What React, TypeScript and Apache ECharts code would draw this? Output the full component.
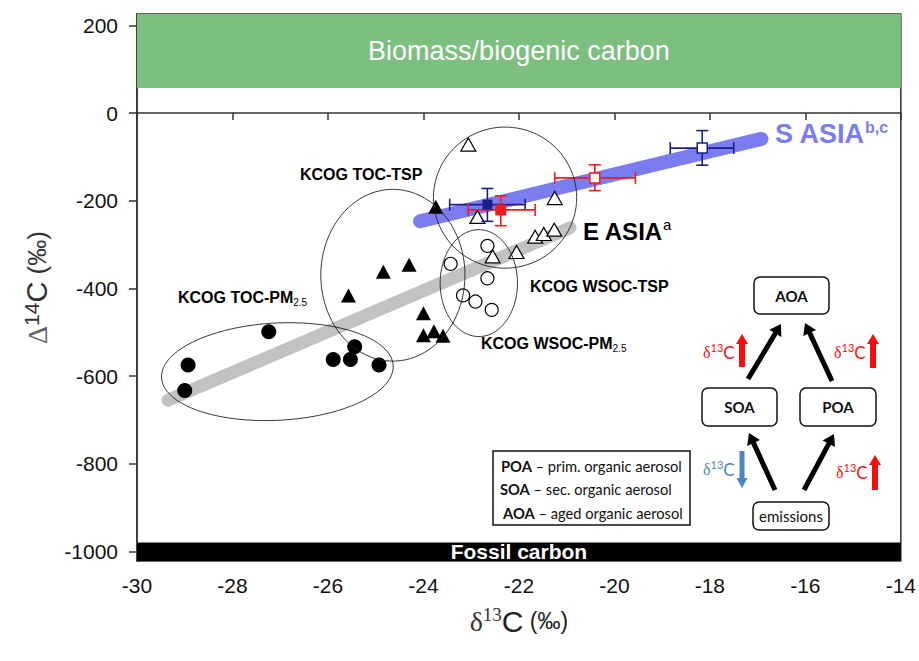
import React, { useEffect, useRef } from "react";
import * as echarts from "echarts";

// ---- data ----
const yTickValues = [-1000, -800, -600, -400, -200, 0, 200];
const xRange = [-30, -14];
const yRange = [-1022, 226];
const bandBiomass = [57, 226];
const bandFossil = [-1022, -980];

const tocPm25 = [[-28.93, -575], [-29.0, -633], [-27.24, -499], [-25.89, -562], [-25.53, -562], [-25.44, -533], [-24.93, -575]];
const tocTsp = [[-25.57, -416], [-24.84, -362], [-24.3, -346], [-24.0, -457], [-24.0, -507], [-23.78, -498], [-23.59, -508], [-23.74, -214]];
const wsocPm25 = [[-22.66, -303], [-23.43, -344], [-22.66, -377], [-23.17, -416], [-22.91, -430], [-22.57, -449]];
const wsocTsp = [[-23.06, -72], [-21.25, -194], [-22.87, -237], [-21.66, -282], [-21.48, -276], [-21.26, -266], [-22.05, -317], [-22.55, -327]];

// [x, y, xLow, xHigh, yLow, yHigh]
const blueFilledMean = [[-22.66, -209, -23.45, -21.87, -247, -172]];
const redFilledMean = [[-22.38, -221, -23.06, -21.66, -257, -189]];
const redOpenMean = [[-20.41, -148, -21.25, -19.56, -177, -118]];
const blueOpenMean = [[-18.16, -80, -18.83, -17.5, -119, -40]];

const eAsiaTrend = [[-29.35, -655], [-20.93, -262]];
const sAsiaTrend = [[-24.07, -247], [-16.92, -59]];

// [centerX, centerY, radiusX, radiusY, rotationDeg]
const groupEllipses = [
  [-27.06, -590, 2.43, 111, 3],
  [-24.64, -370, 1.51, 196, 0],
  [-22.29, -193, 1.5, 161, 0],
  [-22.84, -388, 0.81, 122, 0],
];

const SANS = '"Liberation Sans", Arial, sans-serif';
const SERIF = '"Liberation Serif", "DejaVu Serif", serif';
const CAL = 'Lato, "Noto Sans", sans-serif';

function arrow(x1: number, y1: number, x2: number, y2: number, color: string, width: number, headLen: number, headW: number) {
  const dx = x2 - x1, dy = y2 - y1;
  const L = Math.hypot(dx, dy);
  const ux = dx / L, uy = dy / L;
  const bx = x2 - ux * headLen, by = y2 - uy * headLen;
  const px = -uy, py = ux;
  return [
    { type: "line", shape: { x1, y1, x2: bx + ux, y2: by + uy }, style: { stroke: color, lineWidth: width } },
    {
      type: "polygon",
      shape: { points: [[x2, y2], [bx + (px * headW) / 2, by + (py * headW) / 2], [bx - (px * headW) / 2, by - (py * headW) / 2]] },
      style: { fill: color },
    },
  ];
}

function box(x: number, y: number, w: number, h: number, label: string, bold: boolean) {
  return [
    { type: "rect", shape: { x, y, width: w, height: h, r: 6 }, style: { fill: "#fff", stroke: "#111", lineWidth: 1.5 } },
    {
      type: "text",
      x: x + w / 2,
      y: y + h / 2,
      style: { text: label, fill: "#111", font: `${bold ? "bold " : ""}15px ${CAL}`, align: "center", verticalAlign: "middle" },
    },
  ];
}

function deltaLabel(x: number, y: number, color: string) {
  return {
    type: "text",
    x,
    y,
    style: {
      text: "{d|δ}{s|13}{c|C}",
      align: "left",
      verticalAlign: "middle",
      rich: {
        d: { fontFamily: SERIF, fontSize: 16, fill: color, lineHeight: 20 },
        s: { fontFamily: CAL, fontSize: 11, fill: color, lineHeight: 13, verticalAlign: "top" },
        c: { fontFamily: CAL, fontSize: 17, fill: color, lineHeight: 20 },
      },
    },
  };
}

function errorBarSeries(data: number[][], color: string) {
  return {
    type: "custom",
    data,
    encode: { x: 0, y: 1 },
    z: 5,
    silent: true,
    renderItem: (params: any, api: any) => {
      const x = api.value(0), y = api.value(1);
      const pL = api.coord([api.value(2), y]);
      const pR = api.coord([api.value(3), y]);
      const pB = api.coord([x, api.value(4)]);
      const pT = api.coord([x, api.value(5)]);
      const c = 6;
      const st = { stroke: color, lineWidth: 1.6 };
      return {
        type: "group",
        children: [
          { type: "line", shape: { x1: pL[0], y1: pL[1], x2: pR[0], y2: pR[1] }, style: st },
          { type: "line", shape: { x1: pL[0], y1: pL[1] - c, x2: pL[0], y2: pL[1] + c }, style: st },
          { type: "line", shape: { x1: pR[0], y1: pR[1] - c, x2: pR[0], y2: pR[1] + c }, style: st },
          { type: "line", shape: { x1: pB[0], y1: pB[1], x2: pT[0], y2: pT[1] }, style: st },
          { type: "line", shape: { x1: pB[0] - c, y1: pB[1], x2: pB[0] + c, y2: pB[1] }, style: st },
          { type: "line", shape: { x1: pT[0] - c, y1: pT[1], x2: pT[0] + c, y2: pT[1] }, style: st },
        ],
      };
    },
  };
}

const legendRich = {
  b: { fontFamily: CAL, fontWeight: "bold", fontSize: 14.7, fill: "#111" },
  n: { fontFamily: CAL, fontSize: 14.7, fill: "#111" },
};

export default function App() {
  const ref = useRef<HTMLDivElement>(null);
  useEffect(() => {
    if (!ref.current) return;
    const chart = echarts.init(ref.current, undefined, { renderer: "svg" });
    const red = "#f80c0c";
    const blue = "#4f83c4";
    const graphics: any[] = [
      { type: "text", x: 300, y: 174, style: { text: "KCOG TOC-TSP", font: `bold 16px ${SANS}`, fill: "#000", verticalAlign: "middle" } },
      {
        type: "text", x: 178, y: 297,
        style: {
          text: "{a|KCOG TOC-PM}{b|2.5}", verticalAlign: "middle",
          rich: { a: { fontFamily: SANS, fontWeight: "bold", fontSize: 16, fill: "#000", lineHeight: 20 }, b: { fontFamily: SANS, fontSize: 10, fill: "#000", lineHeight: 10, verticalAlign: "bottom" } },
        },
      },
      { type: "text", x: 530, y: 286, style: { text: "KCOG WSOC-TSP", font: `bold 16px ${SANS}`, fill: "#000", verticalAlign: "middle" } },
      {
        type: "text", x: 481, y: 343,
        style: {
          text: "{a|KCOG WSOC-PM}{b|2.5}", verticalAlign: "middle",
          rich: { a: { fontFamily: SANS, fontWeight: "bold", fontSize: 16, fill: "#000", lineHeight: 20 }, b: { fontFamily: SANS, fontSize: 10, fill: "#000", lineHeight: 10, verticalAlign: "bottom" } },
        },
      },
      {
        type: "text", x: 583, y: 231,
        style: {
          text: "{a|E ASIA}{b|a}", verticalAlign: "middle",
          rich: { a: { fontFamily: SANS, fontWeight: "bold", fontSize: 24, fill: "#000", lineHeight: 28 }, b: { fontFamily: SANS, fontSize: 15, fill: "#000", lineHeight: 16, verticalAlign: "top" } },
        },
      },
      {
        type: "text", x: 775, y: 134,
        style: {
          text: "{a|S ASIA}{b|b,c}", verticalAlign: "middle",
          rich: { a: { fontFamily: SANS, fontWeight: "bold", fontSize: 27, fill: "#7b7cf0", lineHeight: 30 }, b: { fontFamily: SANS, fontWeight: "bold", fontSize: 16, fill: "#7b7cf0", lineHeight: 17, verticalAlign: "top" } },
        },
      },
      { type: "rect", shape: { x: 493, y: 451, width: 197, height: 74 }, style: { fill: "#fff", stroke: "#111", lineWidth: 1.5 } },
      { type: "text", x: 501, y: 466, style: { text: "{b|POA}{n| – prim. organic aerosol}", verticalAlign: "middle", rich: legendRich } },
      { type: "text", x: 500, y: 489, style: { text: "{b|SOA}{n| – sec. organic aerosol}", verticalAlign: "middle", rich: legendRich } },
      { type: "text", x: 503, y: 513, style: { text: "{b|AOA}{n| – aged organic aerosol}", verticalAlign: "middle", rich: legendRich } },
      ...box(754, 277, 75, 37, "AOA", true),
      ...box(702, 388, 75, 38, "SOA", true),
      ...box(800, 388, 76, 38, "POA", true),
      ...box(753, 502, 76, 28, "emissions", false),
      ...arrow(748, 379, 781, 324, "#000", 5, 11, 14),
      ...arrow(832, 381, 805, 323, "#000", 5, 11, 14),
      ...arrow(775, 490, 749, 433, "#000", 5, 11, 14),
      ...arrow(804, 490, 834, 434, "#000", 5, 11, 14),
      deltaLabel(703, 352, red),
      deltaLabel(834, 352, red),
      deltaLabel(703, 469, blue),
      deltaLabel(836, 472, red),
      ...arrow(742, 367, 742, 334, red, 6, 10, 12),
      ...arrow(873, 368, 873, 334, red, 6, 10, 12),
      ...arrow(742, 451, 742, 488, blue, 5, 10, 11),
      ...arrow(875, 490, 875, 455, red, 6, 10, 12),
    ];

    const option: any = {
      animation: false,
      backgroundColor: "#fff",
      grid: { left: 137, right: 18, top: 14, bottom: 100, show: true, borderColor: "#333", borderWidth: 1.5, backgroundColor: "transparent" },
      xAxis: {
        type: "value",
        min: xRange[0],
        max: xRange[1],
        interval: 2,
        name: "{d|δ}{s|13}{c|C}{p| (‰)}",
        nameLocation: "middle",
        nameGap: 44,
        nameTextStyle: {
          rich: {
            d: { fontFamily: SERIF, fontSize: 28, color: "#333", lineHeight: 32 },
            s: { fontFamily: SERIF, fontSize: 19, color: "#333", lineHeight: 18, verticalAlign: "top" },
            c: { fontFamily: SANS, fontSize: 30, color: "#222", lineHeight: 32 },
            p: { fontFamily: SANS, fontSize: 23, color: "#222", lineHeight: 32 },
          },
        },
        axisLine: { show: true, lineStyle: { color: "#333", width: 1.5 } },
        axisTick: { show: true, length: 7, lineStyle: { color: "#333", width: 1.5 } },
        axisLabel: { fontFamily: SANS, fontSize: 21, color: "#111", margin: 14, showMinLabel: true, showMaxLabel: true },
        splitLine: { show: false },
      },
      yAxis: {
        type: "value",
        min: yRange[0],
        max: yRange[1],
        name: "{d|Δ}{s|14}{c|C}{p| (‰)}",
        nameLocation: "middle",
        nameRotate: 90,
        nameGap: 84,
        nameTextStyle: {
          rich: {
            d: { fontFamily: SERIF, fontSize: 28, color: "#666", lineHeight: 32 },
            s: { fontFamily: SANS, fontSize: 21, color: "#333", lineHeight: 20, verticalAlign: "top" },
            c: { fontFamily: SANS, fontSize: 29, color: "#333", lineHeight: 32 },
            p: { fontFamily: SANS, fontSize: 26, color: "#333", lineHeight: 32 },
          },
        },
        axisLine: { show: true, lineStyle: { color: "#333", width: 1.5 } },
        axisTick: { show: true, length: 8, customValues: yTickValues, lineStyle: { color: "#333", width: 1.5 } },
        axisLabel: { customValues: yTickValues, formatter: (v: number) => String(v), fontFamily: SANS, fontSize: 21, color: "#111", margin: 19 },
        splitLine: { show: false },
      },
      graphic: graphics,
      series: [
        {
          type: "line",
          data: eAsiaTrend,
          symbol: "none",
          silent: true,
          z: 1,
          lineStyle: { color: "#c2c2c2", width: 13, cap: "round" },
          markArea: {
            silent: true,
            data: [
              [
                { yAxis: bandBiomass[0], itemStyle: { color: "#7cbf7e", opacity: 1 }, label: { show: true, position: "inside", formatter: "Biomass/biogenic carbon", color: "#fff", fontFamily: SANS, fontSize: 27 } },
                { yAxis: bandBiomass[1] },
              ],
              [
                { yAxis: bandFossil[0], itemStyle: { color: "#000", opacity: 1 }, label: { show: true, position: "inside", formatter: "Fossil carbon", color: "#fff", fontFamily: SANS, fontWeight: "bold", fontSize: 21 } },
                { yAxis: bandFossil[1] },
              ],
            ],
          },
        },
        {
          type: "line",
          data: sAsiaTrend,
          symbol: "none",
          silent: true,
          z: 1,
          lineStyle: { color: "#7b7cf0", width: 14, cap: "round" },
        },
        {
          type: "custom",
          data: groupEllipses,
          encode: { x: 0, y: 1 },
          silent: true,
          z: 6,
          renderItem: (params: any, api: any) => {
            const c = api.coord([api.value(0), api.value(1)]);
            const s = api.size([api.value(2), api.value(3)]);
            const rot = (-api.value(4) * Math.PI) / 180;
            const pts: number[][] = [];
            for (let i = 0; i <= 90; i++) {
              const t = (i / 90) * Math.PI * 2;
              const ex = s[0] * Math.cos(t), ey = s[1] * Math.sin(t);
              pts.push([c[0] + ex * Math.cos(rot) - ey * Math.sin(rot), c[1] + ex * Math.sin(rot) + ey * Math.cos(rot)]);
            }
            return { type: "polyline", shape: { points: pts }, style: { stroke: "#222", lineWidth: 0.9, fill: null } };
          },
        },
        { type: "scatter", data: tocPm25, symbol: "circle", symbolSize: 15, itemStyle: { color: "#000", opacity: 1 }, z: 3 },
        { type: "scatter", data: tocTsp, symbol: "triangle", symbolSize: [15, 14], itemStyle: { color: "#000", opacity: 1 }, z: 3 },
        { type: "scatter", data: wsocPm25, symbol: "circle", symbolSize: 13, itemStyle: { color: "#fff", borderColor: "#000", borderWidth: 1.2, opacity: 1 }, z: 3 },
        { type: "scatter", data: wsocTsp, symbol: "triangle", symbolSize: [15, 13], itemStyle: { color: "#fff", borderColor: "#000", borderWidth: 1.2, opacity: 1 }, z: 3 },
        errorBarSeries(blueFilledMean, "#1c1c8a"),
        errorBarSeries(blueOpenMean, "#1c1c8a"),
        errorBarSeries(redFilledMean, "#ee1c1c"),
        errorBarSeries(redOpenMean, "#ee1c1c"),
        { type: "scatter", data: blueFilledMean, symbol: "rect", symbolSize: 10, itemStyle: { color: "#1c1c8a", opacity: 1 }, z: 7 },
        { type: "scatter", data: redFilledMean, symbol: "rect", symbolSize: 11, itemStyle: { color: "#ee1c1c", opacity: 1 }, z: 7 },
        { type: "scatter", data: redOpenMean, symbol: "rect", symbolSize: 10, itemStyle: { color: "#fff", borderColor: "#ee1c1c", borderWidth: 1.5, opacity: 1 }, z: 7 },
        { type: "scatter", data: blueOpenMean, symbol: "rect", symbolSize: 10, itemStyle: { color: "#fff", borderColor: "#1c1c8a", borderWidth: 1.5, opacity: 1 }, z: 7 },
      ],
    };
    chart.setOption(option);
    return () => chart.dispose();
  }, []);
  return <div ref={ref} style={{ position: "fixed", left: 0, top: 0, width: 919, height: 661 }} />;
}
